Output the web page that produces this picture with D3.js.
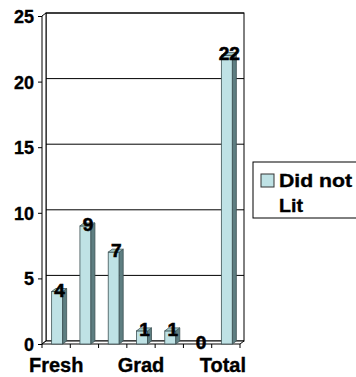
<!DOCTYPE html>
<html><head><meta charset="utf-8">
<script src="https://cdn.jsdelivr.net/npm/d3@7"></script>
<style>body{margin:0;background:#fff}svg{display:block}text{font-family:"Liberation Sans",Arial,sans-serif;font-weight:bold}</style>
</head><body><svg id="c" width="356" height="377"></svg>
<script>
const categories = ["Fresh","Soph","Junior","Grad","Senior","Other","Total"];
const shownLabels = ["Fresh","Grad","Total"];
const values = [4,9,7,1,1,0,22];
const yTicks = [0,5,10,15,20,25];
const seriesName = ["Did not", "Lit"];

const svg = d3.select("#c");
const dx = 4, dy = -3;
const x = d3.scaleBand().domain(categories).range([42,240]);
const y = d3.scaleLinear().domain([0,25]).range([344,16]);
const line = "#000";
const bold = s => s.style("font-weight","bold").style("font-family","'Liberation Sans',Arial,sans-serif")
  .attr("fill","#000").attr("stroke","#000").attr("stroke-width",0.35);

// back wall
svg.append("rect").attr("x",42+dx).attr("y",y(25)+dy).attr("width",240-42).attr("height",y(0)-y(25))
  .attr("fill","#fff").attr("stroke",line).attr("stroke-width",1);
svg.selectAll(".grid").data(yTicks.filter(d=>d>0)).join("line")
  .attr("x1",42+dx).attr("x2",240+dx).attr("y1",d=>y(d)+dy).attr("y2",d=>y(d)+dy)
  .attr("stroke",line).attr("stroke-width",1);
svg.append("path").attr("d",`M42,${y(0)}L42,${y(25)}L${42+dx},${y(25)+dy}L${42+dx},${y(0)+dy}Z`)
  .attr("fill","#fff").attr("stroke",line);
svg.append("path").attr("d",`M42,${y(0)}L240,${y(0)}L${240+dx},${y(0)+dy}L${42+dx},${y(0)+dy}Z`)
  .attr("fill","#fff").attr("stroke",line);

// y axis
const ya = d3.axisLeft(y).tickValues(yTicks).tickSize(4).tickPadding(4);
const yg = svg.append("g").attr("transform","translate(42,0)").call(ya);
yg.select(".domain").remove();
yg.selectAll("line").attr("stroke",line);
yg.selectAll("text").style("font-size","18px").call(bold).attr("dy","0.36em");

// x axis
const xa = d3.axisBottom(x).tickSize(0).tickFormat(d=>shownLabels.includes(d)?d:"");
const xg = svg.append("g").attr("transform",`translate(0,${y(0)})`).call(xa);
xg.select(".domain").remove();
xg.selectAll("text").style("font-size","20px").call(bold).attr("y",28).attr("dy",0)
  .attr("dx",(d,i)=>d==="Total"?-3:0);
svg.selectAll(".xt").data(categories.concat(["_end"])).join("line")
  .attr("x1",(d,i)=>42+i*x.step()).attr("x2",(d,i)=>42+i*x.step())
  .attr("y1",y(0)).attr("y2",y(0)+4).attr("stroke",line);

// bars
const bw = 11;
svg.selectAll(".bar").data(values).join("g").each(function(v,i){
  const g = d3.select(this);
  const x0 = x(categories[i]) + (x.step()-bw)/2 + 1;
  const yt = y(v), yb = y(0);
  if (v>0){
    g.append("rect").attr("x",x0).attr("y",yt).attr("width",bw).attr("height",yb-yt)
      .attr("fill","#BFE2E5").attr("stroke","#3f5355").attr("stroke-width",0.8);
    g.append("path").attr("d",`M${x0+bw},${yb}L${x0+bw},${yt}L${x0+bw+dx},${yt+dy}L${x0+bw+dx},${yb+dy}Z`)
      .attr("fill","#5E7E81").attr("stroke","#3f5355").attr("stroke-width",0.8);
    g.append("path").attr("d",`M${x0},${yt}L${x0+bw},${yt}L${x0+bw+dx},${yt+dy}L${x0+dx},${yt+dy}Z`)
      .attr("fill","#9FC6C9").attr("stroke","#3f5355").attr("stroke-width",0.8);
  }
  g.append("text").attr("x",x0+bw/2+2.5).attr("y",yt+5).attr("text-anchor","middle")
    .style("font-size","19px").call(bold).attr("stroke-width",0.6).text(v);
});

// legend
const lg = svg.append("g");
lg.append("rect").attr("x",253).attr("y",162).attr("width",110).attr("height",56)
  .attr("fill","#fff").attr("stroke",line);
lg.append("rect").attr("x",261).attr("y",174).attr("width",13).attr("height",13)
  .attr("fill","#BFE2E5").attr("stroke","#333");
lg.selectAll(".lt").data(seriesName).join("text")
  .attr("x",279).attr("y",(d,i)=>187+i*25)
  .style("font-size","18px").call(bold)
  .attr("textLength",(d,i)=>i===0?73:24).attr("lengthAdjust","spacingAndGlyphs").text(d=>d);
</script></body></html>
